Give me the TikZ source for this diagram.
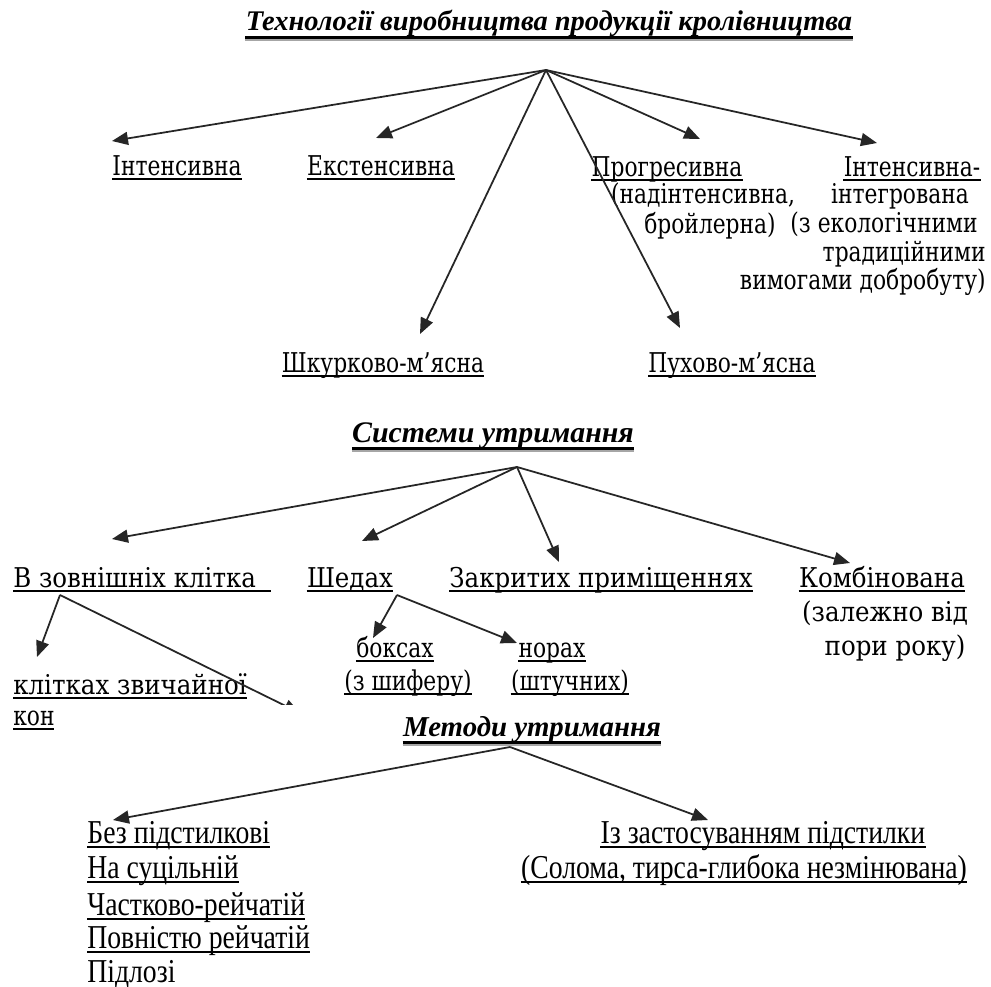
\documentclass[tikz,border=0pt]{standalone}
\usepackage{fontspec}
\usetikzlibrary{arrows.meta}
\setmainfont{Liberation Serif}
\newfontfamily\slabf[FakeStretch=0.8]{DejaVu Serif}
\newfontfamily\slabw[FakeStretch=0.9]{DejaVu Serif}
\newfontfamily\narrf[FakeStretch=0.83]{Liberation Serif}
\tikzset{
  lab/.style={font=\slabf\fontsize{15.5pt}{18pt}\selectfont, anchor=base, inner sep=0pt},
  llab/.style={lab, anchor=base west},
  rlab/.style={lab, anchor=base east},
  wlab/.style={lab, font=\slabw\fontsize{15.5pt}{18pt}\selectfont},
  wllab/.style={wlab, anchor=base west},
  nlab/.style={font=\narrf\fontsize{19pt}{22pt}\selectfont, anchor=base, inner sep=0pt},
  nllab/.style={nlab, anchor=base west},
  ttl/.style={font=\bfseries\itshape\fontsize{17pt}{20pt}\selectfont, anchor=base, inner sep=0pt},
  ulline/.style={line width=0.9pt},
  tline/.style={line width=1.4pt},
  edge/.style={draw=black!85, line width=1pt, -{Triangle[length=0.32cm,width=0.26cm]}}
}
\newcommand{\under}[1]{\draw[ulline] ([yshift=-2.4pt]#1.base west) -- ([yshift=-2.4pt]#1.base east);}
\newcommand{\tunder}[1]{
\draw[tline] ([yshift=-3.6pt]#1.base west) -- ([yshift=-3.6pt]#1.base east);
\draw[gray!70, line width=1pt] ([yshift=-5pt]#1.base west) -- ([yshift=-5pt]#1.base east);
}
\newcommand{\lab}[4]{\node[lab] (#1) at (#2,#3) {#4};}
\newcommand{\ulab}[4]{\node[lab] (#1) at (#2,#3) {#4}; \under{#1}}
\newcommand{\wlab}[4]{\node[wlab] (#1) at (#2,#3) {#4}; \under{#1}}
\newcommand{\tedge}[2]{\draw[edge] (#1) -- (#2);}
\begin{document}
\begin{tikzpicture}[x=0.02cm, y=-0.02cm]
\useasboundingbox (0,0) rectangle (991,987);
\fill[white] (0,0) rectangle (991,987);

% technologies
\node[ttl, font=\bfseries\itshape\fontsize{16.2pt}{20pt}\selectfont] (tit1) at (549,31) {Технології виробництва продукції кролівництва};
\tunder{tit1}
\coordinate (h1) at (546,70);

\ulab{int}{177}{175}{Інтенсивна}
\ulab{ext}{381}{175}{Екстенсивна}
\ulab{prog}{667}{176}{Прогресивна}
\lab{prog2}{703}{203}{(надінтенсивна,}
\lab{prog3}{710}{233}{бройлерна)}
\ulab{intg}{912}{176}{Інтенсивна-}
\lab{intg2}{900}{203}{інтегрована}
\node[rlab] (intg3) at (978,232) {(з екологічними};
\node[rlab] (intg4) at (986,261) {традиційними};
\node[rlab] (intg5) at (986,289) {вимогами добробуту)};
\ulab{shk}{383}{372}{Шкурково-м’ясна}
\ulab{pukh}{732}{372}{Пухово-м’ясна}

\coordinate (t-int) at (112,141);
\coordinate (t-ext) at (376,138);
\coordinate (t-prog) at (700,139);
\coordinate (t-intg) at (877,143);
\coordinate (t-shk) at (420,334);
\coordinate (t-pukh) at (680,328);
\tedge{h1}{t-int}
\tedge{h1}{t-ext}
\tedge{h1}{t-prog}
\tedge{h1}{t-intg}
\tedge{h1}{t-shk}
\tedge{h1}{t-pukh}

% housing systems
\node[ttl] (tit2) at (493,442) {Системи утримання};
\tunder{tit2}
\coordinate (h2) at (517,467);

\node[wllab] (zovn) at (13,587) {В зовнішніх клітка\hphantom{a}};
\under{zovn}
\wlab{shed}{350}{587}{Шедах}
\wlab{zakr}{601}{587}{Закритих приміщеннях}
\wlab{komb}{882}{587}{Комбінована}
\node[wlab] (komb2) at (885,621) {(залежно від};
\node[wlab] (komb3) at (895,655) {пори року)};

\coordinate (t-zovn) at (112,539);
\coordinate (t-shed) at (362,541);
\coordinate (t-zakr) at (559,562);
\coordinate (t-komb) at (850,563);
\tedge{h2}{t-zovn}
\tedge{h2}{t-shed}
\tedge{h2}{t-zakr}
\tedge{h2}{t-komb}

% outdoor cages
\coordinate (h2a) at (60,595);
\node[wllab] (klit) at (13,694) {клітках звичайної};
\under{klit}
\node[llab] (kon) at (13,725) {кон};
\under{kon}
\coordinate (t-klit) at (37,657);
\coordinate (t-cut) at (300,713);
\tedge{h2a}{t-klit}
\tedge{h2a}{t-cut}

% sheds
\coordinate (h2b) at (397,595);
\ulab{boks}{395}{657}{боксах}
\ulab{boks2}{408}{690}{(з шиферу)}
\ulab{nor}{552}{657}{норах}
\ulab{nor2}{570}{690}{(штучних)}
\coordinate (t-boks) at (373,638);
\coordinate (t-nor) at (517,643);
\tedge{h2b}{t-boks}
\tedge{h2b}{t-nor}

% lower sheet
\fill[white] (54,705) rectangle (991,987);

% housing methods
\node[ttl, font=\bfseries\itshape\fontsize{16.4pt}{20pt}\selectfont] (tit3) at (532,736) {Методи утримання};
\tunder{tit3}
\coordinate (h3) at (510,747);

\node[nllab] (bez) at (87,843) {Без підстилкові};
\node[nllab] (na) at (87,878) {На суцільній};
\node[nllab] (chast) at (87,915) {Частково-рейчатій};
\node[nllab] (povn) at (87,948) {Повністю рейчатій};
\node[nllab] (pidl) at (87,982) {Підлозі};
\node[nlab] (iz) at (763,843) {Із застосуванням підстилки};
\node[nlab] (iz2) at (744,878) {(Солома, тирса-глибока незмінювана)};
\under{bez}
\under{na}
\under{chast}
\under{povn}
\under{iz}
\under{iz2}

\coordinate (t-bez) at (113,820);
\coordinate (t-iz) at (708,820);
\tedge{h3}{t-bez}
\tedge{h3}{t-iz}
\end{tikzpicture}
\end{document}
